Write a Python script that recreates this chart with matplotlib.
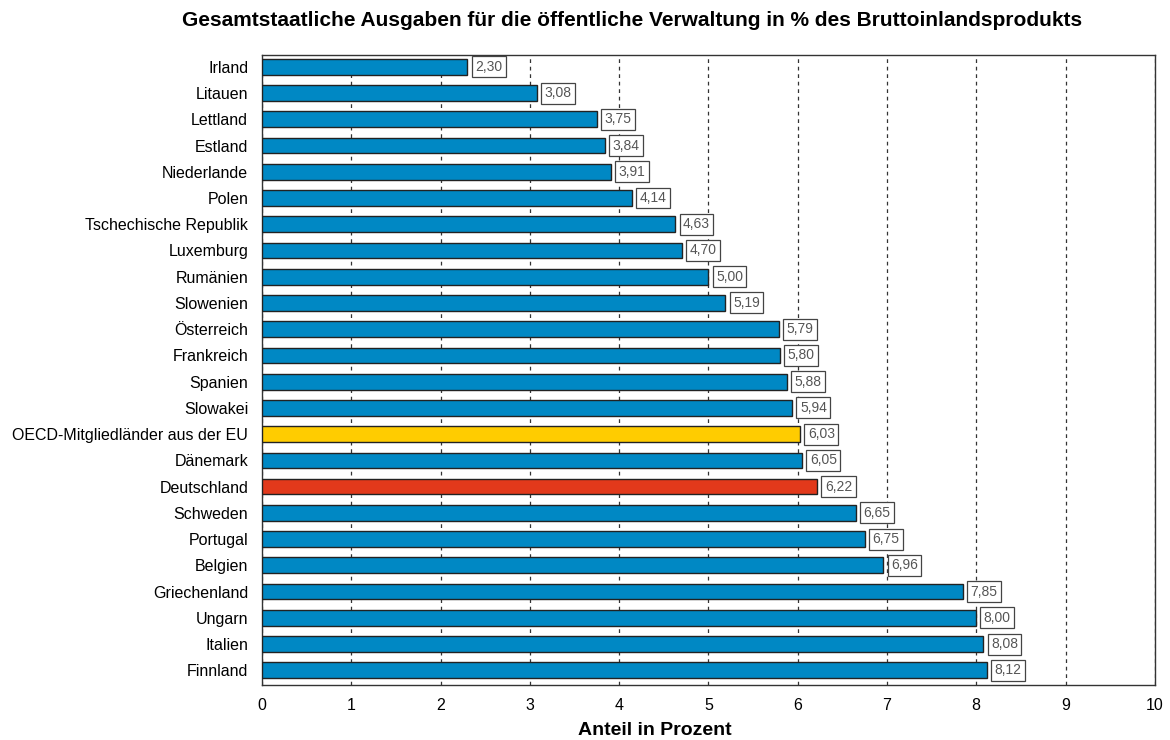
import matplotlib
matplotlib.use("Agg")
import matplotlib.pyplot as plt

plt.rcParams['font.family'] = ['Liberation Sans', 'DejaVu Sans']

laender = ["Irland", "Litauen", "Lettland", "Estland", "Niederlande", "Polen",
           "Tschechische Republik", "Luxemburg", "Rumänien", "Slowenien",
           "Österreich", "Frankreich", "Spanien", "Slowakei",
           "OECD-Mitgliedländer aus der EU", "Dänemark", "Deutschland",
           "Schweden", "Portugal", "Belgien", "Griechenland", "Ungarn",
           "Italien", "Finnland"]
werte = [2.30, 3.08, 3.75, 3.84, 3.91, 4.14, 4.63, 4.70, 5.00, 5.19,
         5.79, 5.80, 5.88, 5.94, 6.03, 6.05, 6.22, 6.65, 6.75, 6.96,
         7.85, 8.00, 8.08, 8.12]

farben = []
for land in laender:
    if land == "Deutschland":
        farben.append("#E2391B")
    elif land.startswith("OECD"):
        farben.append("#FFCC00")
    else:
        farben.append("#0088C4")

fig = plt.figure(figsize=(11.7, 7.4), dpi=100)
ax = fig.add_axes([0.224, 0.074, 0.763, 0.852])

y = range(len(laender))
ax.barh(y, werte, height=0.6, color=farben, edgecolor="#222222", linewidth=1, zorder=3)

for i, w in enumerate(werte):
    ax.text(w + 0.085, i, f"{w:.2f}".replace(".", ","), va="center", ha="left",
            fontsize=10, color="#555555", zorder=4,
            bbox=dict(boxstyle="square,pad=0.25", facecolor="white", edgecolor="#444444", linewidth=0.9))

ax.set_yticks(list(y))
ax.set_yticklabels(laender, fontsize=11.5)
ax.set_ylim(len(laender) - 0.43, -0.46)
ax.set_xlim(0, 10)
ax.set_xticks(range(0, 11))
ax.tick_params(axis="both", length=0, labelsize=11.5)
ax.tick_params(axis="y", pad=10)
ax.tick_params(axis="x", pad=9)
ax.xaxis.grid(True, linestyle=(0, (3, 3)), color="#333333", linewidth=0.9, zorder=0)
for s in ax.spines.values():
    s.set_color("#333333")
    s.set_linewidth(1)

ax.set_xlabel("Anteil in Prozent", fontsize=14, fontweight="bold")
ax.xaxis.set_label_coords(0.44, -0.058)
fig.suptitle("Gesamtstaatliche Ausgaben für die öffentliche Verwaltung in % des Bruttoinlandsprodukts",
             fontsize=15, fontweight="bold", x=0.54, y=0.985)

fig.savefig("out.png", dpi=100)
